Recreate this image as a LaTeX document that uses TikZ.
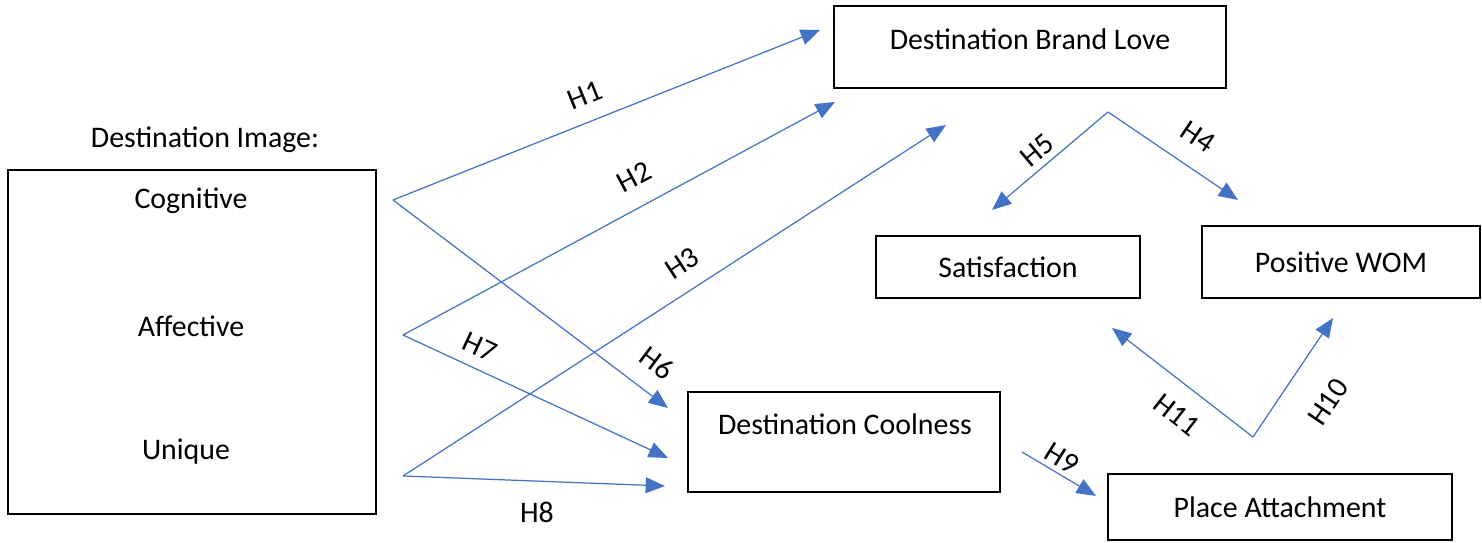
\documentclass[tikz,border=0pt]{standalone}
\usepackage{fontspec}
\setmainfont{Carlito}
\usepackage{xcolor}
\usetikzlibrary{arrows.meta}
\definecolor{hypblue}{HTML}{4472C4}

\begin{document}
\begin{tikzpicture}[x=0.02cm,y=-0.02cm,font=\fontsize{17}{20}\selectfont,
    box/.style={draw=black, line width=1.5pt, fill=white, inner sep=0pt},
    txt/.style={inner sep=1pt},
    hyp/.style={draw=hypblue, line width=0.7pt, -{Triangle[length=11pt,width=9pt]}},
    hlbl/.style={inner sep=0pt}]
  \useasboundingbox (0,0) rectangle (1482,543);

  % construct boxes
  \node[box, minimum width=7.36cm, minimum height=6.88cm] (image) at (192,342) {};
  \node[txt] (imagetitle) at (205,140) {Destination Image:};
  \node[txt] (cogn) at (191,201) {Cognitive};
  \node[txt] (affe) at (191,326) {Affective};
  \node[txt] (uniq) at (186,452) {Unique};

  \node[box, minimum width=7.84cm, minimum height=1.64cm] (brandlove) at (1030,47) {};
  \node[txt] (brandlovetxt) at (1030,39) {Destination Brand Love};
  \node[box, minimum width=5.28cm, minimum height=1.24cm] (satisf) at (1008,267) {Satisfaction};
  \node[box, minimum width=5.56cm, minimum height=1.44cm] (wom) at (1341,262) {Positive WOM};
  \node[box, minimum width=6.24cm, minimum height=2.0cm] (coolness) at (844,442) {};
  \node[txt] (coolnesstxt) at (845,424) {Destination Coolness};
  \node[box, minimum width=6.88cm, minimum height=1.32cm] (attach) at (1280,507) {Place Attachment};

  % free ends of the paths
  \coordinate (cogout) at (393,200);
  \coordinate (affout) at (403,335);
  \coordinate (uniqout) at (403,476);
  \coordinate (blin1) at (820,30);
  \coordinate (blin2) at (835,102);
  \coordinate (blin3) at (946,125);
  \coordinate (coin1) at (668,408);
  \coordinate (coin2) at (668,458);
  \coordinate (coin3) at (665,486);
  \coordinate (blout) at (1108,112);
  \coordinate (satin) at (992,210);
  \coordinate (womin) at (1238,200);
  \coordinate (coout) at (1022,452);
  \coordinate (atin) at (1096,496);
  \coordinate (atout) at (1253,437);
  \coordinate (satin2) at (1112,328);
  \coordinate (womin2) at (1333,318);

  \draw[hyp] (cogout) -- (blin1);
  \draw[hyp] (cogout) -- (coin1);
  \draw[hyp] (affout) -- (blin2);
  \draw[hyp] (affout) -- (coin2);
  \draw[hyp] (uniqout) -- (blin3);
  \draw[hyp] (uniqout) -- (coin3);
  \draw[hyp] (blout) -- (satin);
  \draw[hyp] (blout) -- (womin);
  \draw[hyp] (coout) -- (atin);
  \draw[hyp] (atout) -- (satin2);
  \draw[hyp] (atout) -- (womin2);

  \foreach \nm/\xx/\yy/\ang in {H1/585/95/22, H2/634/177/28, H3/682/263/33,
      H4/1198/137/-34, H5/1037/150/40, H6/657/363/-37, H7/480/347/-25,
      H8/537/512/0, H9/1062/458/-32, H10/1328/402/56, H11/1177/415/-38} {
    \node[hlbl, rotate=\ang] (\nm) at (\xx,\yy) {\nm};
  }
\end{tikzpicture}
\end{document}
